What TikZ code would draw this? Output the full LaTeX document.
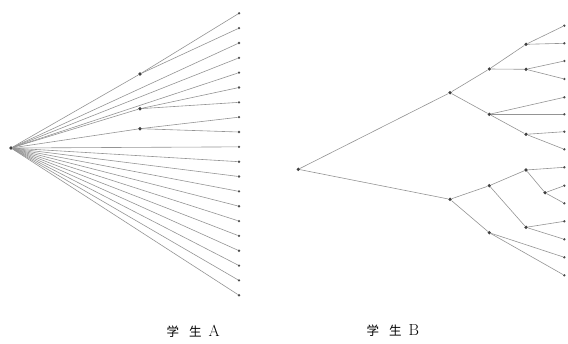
\documentclass[tikz,border=0pt]{standalone}
\usepackage{fontspec}
\newfontfamily\cjk{Noto Sans CJK SC}
\begin{document}
\begin{tikzpicture}[x=1pt,y=-1pt,
  leaf/.style={circle,fill=black!70,inner sep=0pt,minimum size=2.6pt},
  inner/.style={circle,fill=black!75,inner sep=0pt,minimum size=3.6pt},
  edge/.style={draw=black!42,line width=0.6pt},
  lab/.style={font=\fontsize{12.5}{14}\selectfont,anchor=west,inner sep=0pt}]
\useasboundingbox (0,0) rectangle (568,343);
% ---------- Student A ----------
\node[inner] (ar) at (11,148) {};
\foreach \i in {1,...,20}{
  \node[leaf] (al\i) at (239,{13.3+14.84*(\i-1)}) {};
}
\node[inner] (ax1) at (140,74) {};
\node[inner] (ax2) at (140,108.7) {};
\node[inner] (ax3) at (140,128.7) {};
\draw[edge] (ar) -- (ax1); \draw[edge] (ax1) -- (al1); \draw[edge] (ax1) -- (al2);
\draw[edge] (ar) -- (ax2); \draw[edge] (ax2) -- (al6); \draw[edge] (ax2) -- (al7);
\draw[edge] (ar) -- (ax3); \draw[edge] (ax3) -- (al8); \draw[edge] (ax3) -- (al9);
\foreach \i in {3,4,5,10,11,12,13,14,15,16,17,18,19,20}{
  \draw[edge] (ar) -- (al\i);
}
% ---------- Student B ----------
\node[inner] (br) at (298.3,169.3) {};
\node[inner] (b1) at (450,92.7) {};
\node[inner] (b2) at (450,199.3) {};
\node[inner] (b11) at (489.3,69) {};
\node[inner] (b12) at (489.3,114.3) {};
\node[inner] (b111) at (526,44.3) {};
\node[inner] (b112) at (526,69.3) {};
\node[inner] (b121) at (526,134.3) {};
\node[inner] (b21) at (489.3,185.7) {};
\node[inner] (b22) at (489.3,232.7) {};
\node[inner] (b211) at (526,170) {};
\node[inner] (b2111) at (545,192.7) {};
\node[inner] (b212) at (526,227.3) {};
\foreach \y [count=\i] in {25.7,43.3,61,79,97.3,114.3,131.7,149.3,167.3,185.7,203.3,221.3,239.3,257.3,275.3}{
  \node[leaf] (bl\i) at (564.3,\y) {};
}
\draw[edge] (br) -- (b1); \draw[edge] (br) -- (b2);
\draw[edge] (b1) -- (b11); \draw[edge] (b1) -- (b12);
\draw[edge] (b11) -- (b111); \draw[edge] (b11) -- (b112);
\draw[edge] (b111) -- (bl1); \draw[edge] (b111) -- (bl2);
\draw[edge] (b112) -- (bl3); \draw[edge] (b112) -- (bl4);
\draw[edge] (b12) -- (bl5); \draw[edge] (b12) -- (bl6); \draw[edge] (b12) -- (b121);
\draw[edge] (b121) -- (bl7); \draw[edge] (b121) -- (bl8);
\draw[edge] (b2) -- (b21); \draw[edge] (b2) -- (b22);
\draw[edge] (b21) -- (b211); \draw[edge] (b21) -- (b212);
\draw[edge] (b211) -- (bl9); \draw[edge] (b211) -- (b2111);
\draw[edge] (b2111) -- (bl10); \draw[edge] (b2111) -- (bl11);
\draw[edge] (b212) -- (bl12); \draw[edge] (b212) -- (bl13);
\draw[edge] (b22) -- (bl14); \draw[edge] (b22) -- (bl15);
% ---------- labels ----------
\node[lab] (la) at (166.5,331) {{\cjk 学\hspace{10pt}生}\hspace{7pt}{\fontsize{16}{16}\selectfont A}};
\node[lab] (lb) at (366.5,331) {{\cjk 学\hspace{10pt}生}\hspace{7pt}{\fontsize{16}{16}\selectfont B}};
\end{tikzpicture}
\end{document}
